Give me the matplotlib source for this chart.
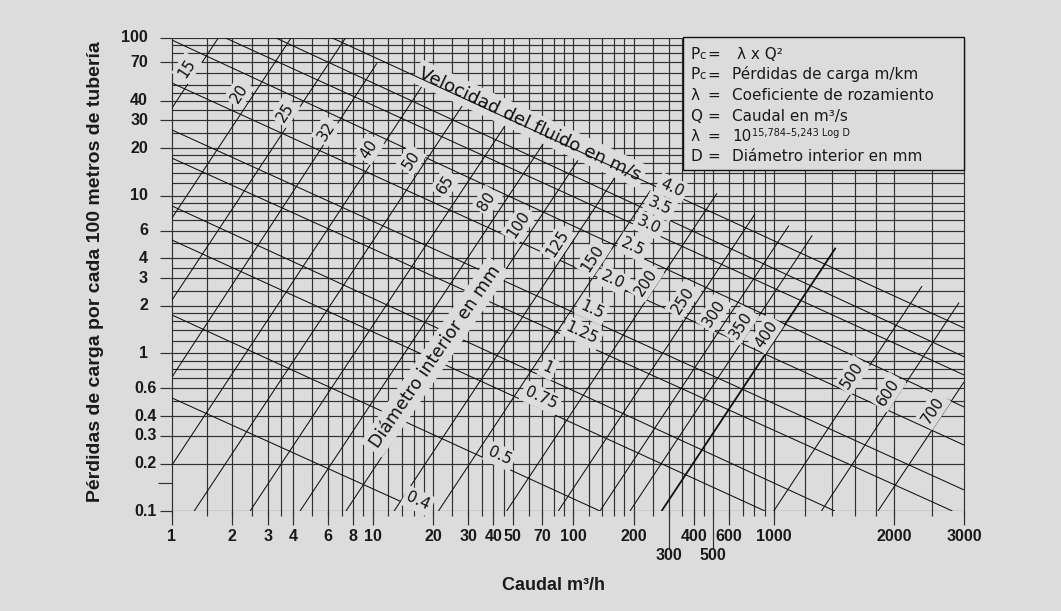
import numpy as np
import matplotlib
matplotlib.use('Agg')
import matplotlib.pyplot as plt
from matplotlib.patches import Rectangle
from matplotlib.ticker import NullLocator
from matplotlib.transforms import blended_transform_factory, offset_copy

# ---------------- data ----------------
x_tick_values = [1, 2, 3, 4, 6, 8, 10, 20, 30, 40, 50, 70, 100, 200, 400, 600, 1000, 2000, 3000]
x_tick_labels = ['1', '2', '3', '4', '6', '8', '10', '20', '30', '40', '50', '70', '100', '200',
                 '400', '600', '1000', '2000', '3000']
x_tick_low_values = [300, 500]
x_tick_low_labels = ['300', '500']
y_tick_values = [0.1, 0.2, 0.3, 0.4, 0.6, 1, 2, 3, 4, 6, 10, 20, 30, 40, 70, 100]
y_tick_labels = ['0.1', '0.2', '0.3', '0.4', '0.6', '1', '2', '3', '4', '6', '10', '20', '30', '40',
                 '70', '100']
y_tick_extra = [0.15]
x_grid = [1, 1.5, 2, 2.5, 3, 3.5, 4, 5, 6, 7, 8, 9, 10, 12, 14, 16, 18, 20, 25, 30, 35, 40, 45,
          50, 60, 70, 80, 90, 100, 120, 140, 160, 180, 200, 250, 300, 350, 400, 450, 500, 600,
          700, 800, 900, 1000, 1200, 1400, 1600, 1800, 2000, 2500, 3000]
y_grid = [0.1, 0.2, 0.3, 0.4, 0.5, 0.6, 0.7, 0.8, 0.9, 1, 1.2, 1.4, 1.6, 1.8, 2, 2.5, 3, 3.5, 4,
          5, 6, 7, 8, 9, 10, 12, 14, 16, 18, 20, 25, 30, 35, 40, 45, 50, 60, 70, 80, 90, 100]

# diameter lines (mm): start (Q, Pc) -> end (Q, Pc)
diam_names = ['15', '20', '25', '32', '40', '50', '65', '80', '100', '125', '150', '200', '250',
              '300', '350', '400', '500', '600', '700']
diam_q0 = [1, 1, 1, 1, 1, 1.29, 2.45, 4.35, 7.37, 12.8, 21.3, 46.6, 84.3, 136, 192, 276, 1000,
           1317, 1826]
diam_p0 = [36, 7.22, 2.18, 0.708, 0.196, 0.1, 0.1, 0.1, 0.1, 0.1, 0.1, 0.1, 0.1, 0.1, 0.1, 0.1,
           0.1, 0.1, 0.1]
diam_q1 = [1.70, 3.92, 7.33, 10.5, 17.8, 28.9, 47.2, 73.9, 110, 167, 243, 521, 806, 1091, 1249,
           1430, 2354, 2915, 3000]
diam_p1 = [100, 100, 100, 69.1, 50.3, 39.5, 29.5, 23.1, 18.1, 13.9, 10.8, 10.35, 7.65, 6.46, 5.6,
           4.67, 2.67, 2.10, 0.658]

# velocity lines (m/s)
vel_names = ['0.4', '0.5', '0.75', '1', '1.25', '1.5', '2.0', '2.5', '3.0', '3.5', '4.0']
vel_q0 = [1, 1, 1, 1, 1, 1, 1, 1, 1.85, 3.3, 6.3]
vel_p0 = [0.521, 1.75, 5.23, 8.6, 17.3, 26.1, 51.8, 97, 100, 100, 100]
vel_q1 = [17.6, 136, 904, 1422, 2806, 3000, 3000, 3000, 3000, 3000, 3000]
vel_p1 = [0.1, 0.1, 0.1, 0.1, 0.1, 0.136, 0.262, 0.457, 0.729, 0.952, 1.447]

# ---------------- layout ----------------
W, H = 1061, 611
BG = '#dcdcdc'
GRID = '#303030'
LINE = '#111111'
L, R, T, B = 172, 964, 38, 511
TICKFONT = dict(family='Liberation Sans', weight='bold', size=11.5)
LABFONT = dict(family='DejaVu Sans', size=11)

fig = plt.figure(figsize=(W / 100, H / 100), dpi=100, facecolor=BG)
ax = fig.add_axes([L / W, 1 - B / H, (R - L) / W, (B - T) / H])
ax.set_facecolor(BG)

K = 1.988  # the axis is stretched above 1000 m3/h


def fwd(x):
    x = np.asarray(x, dtype=float)
    lx = np.log10(np.clip(x, 1e-300, None))
    return np.where(lx <= 3, lx, 3 + K * (lx - 3))


def inv(u):
    u = np.asarray(u, dtype=float)
    return np.where(u <= 3, 10.0 ** u, 10.0 ** (3 + (u - 3) / K))


ax.set_xscale('function', functions=(fwd, inv))
ax.set_yscale('log')
for s in ax.spines.values():
    s.set_visible(False)

# grid
gkw = dict(color=GRID, lw=0.85, zorder=1, solid_capstyle='butt')
for xv in x_grid:
    ax.axvline(xv, ymin=-5 / (B - T), ymax=1, clip_on=False, **gkw)
for yv in y_grid:
    ax.axhline(yv, xmin=0, xmax=1, **gkw)
ytrans = blended_transform_factory(ax.transAxes, ax.transData)
for yv in y_tick_extra:
    ax.plot([-14 / (R - L), 0], [yv, yv], transform=ytrans, clip_on=False, **gkw)

# ticks
ax.set_xticks(x_tick_values, x_tick_labels, **TICKFONT)
ax.set_xticks(x_tick_low_values, x_tick_low_labels, minor=True, **TICKFONT)
ax.tick_params(axis='x', which='major', length=10.1, width=0.85, color=GRID, pad=3.2,
               labelcolor='#1a1a1a')
ax.tick_params(axis='x', which='minor', length=26.6, width=0.85, color=GRID, pad=0.4,
               labelcolor='#1a1a1a')
ax.set_yticks(y_tick_values)
ax.yaxis.set_minor_locator(NullLocator())
ax.tick_params(axis='y', which='major', length=8.6, width=0.85, color=GRID, labelleft=False)
for v, lab in zip(y_tick_values, y_tick_labels):
    dx = 15 if v < 1 else 24
    ax.text(0, v, lab, transform=offset_copy(ytrans, fig=fig, x=-dx, y=0, units='dots'),
            ha='right', va='center', color='#1a1a1a', **TICKFONT)

# diameter lines
for name, q0, p0, q1, p1 in zip(diam_names, diam_q0, diam_p0, diam_q1, diam_p1):
    ax.plot([q0, q1], [p0, p1], color=LINE, lw=1.3 if name == '400' else 0.75, zorder=2.2,
            solid_capstyle='butt')
# velocity lines
for name, q0, p0, q1, p1 in zip(vel_names, vel_q0, vel_p0, vel_q1, vel_p1):
    ax.plot([q0, q1], [p0, p1], color=LINE, lw=0.75, zorder=3, solid_capstyle='butt')

ax.set_xlim(1, 3000)
ax.set_ylim(0.1, 100)


def ftext(xp, yp, s, **kw):
    return ax.text(xp / W, 1 - yp / H, s, transform=fig.transFigure, **kw)


box = dict(boxstyle='square,pad=0.2', fc=BG, ec='none')

# labels of diameter lines (placed beside each line)
diam_label_px = [(187, 68), (239, 93), (285, 112), (326, 131), (369, 149), (411, 160), (445, 184),
                 (487, 201), (519, 224), (558, 243), (593, 258), (646, 282), (683, 300),
                 (714, 313), (741, 325), (766, 334), (852, 375), (888, 392), (933, 410)]
for name, (xp, yp) in zip(diam_names, diam_label_px):
    ftext(xp, yp, name, rotation=56.5, rotation_mode='anchor', ha='center', va='center',
          bbox=box, zorder=4, color='#111', **LABFONT)

vel_label_px = [(418, 501), (500, 456), (541, 398), (548, 368), (582, 333), (592, 310),
                (613, 280), (633, 247), (649, 225), (660, 206), (672, 188)]
for name, (xp, yp) in zip(vel_names, vel_label_px):
    ftext(xp, yp, name, rotation=-24.7, rotation_mode='anchor', ha='center', va='center',
          bbox=box, zorder=4, color='#111', **LABFONT)

ftext(530, 124, 'Velocidad del fluido en m/s', rotation=-25.2, rotation_mode='anchor',
      ha='center', va='center', bbox=dict(boxstyle='square,pad=0.2', fc=BG, ec='none'),
      zorder=2.5, color='#111', family='DejaVu Sans', size=13)
ftext(435, 357, 'Diámetro interior en mm', rotation=55.5, rotation_mode='anchor',
      ha='center', va='center', bbox=dict(boxstyle='square,pad=0.25', fc=BG, ec='none'),
      zorder=4, color='#111', family='DejaVu Sans', size=12.5)

# formula box
ax.add_patch(Rectangle((683 / W, 1 - 170 / H), (964 - 683) / W, (170 - 37.5) / H,
                       transform=fig.transFigure, fc=BG, ec='#111', lw=1.0, zorder=6,
                       clip_on=False))
LEG = dict(family='DejaVu Sans', size=11, color='#1a1a1a', zorder=7, va='baseline')
base = [59, 79.3, 100, 120.7, 140.7, 160.7]
syms = ['P', 'P', 'λ', 'Q', 'λ', 'D']
vals = ['λ x Q²', 'Pérdidas de carga m/km', 'Coeficiente de rozamiento', 'Caudal en m³/s', '10',
        'Diámetro interior en mm']
for i, (sy, vl, by) in enumerate(zip(syms, vals, base)):
    ftext(690, by, sy, ha='left', **LEG)
    if sy == 'P':
        ftext(699.5, by, 'c', ha='left', **dict(LEG, size=8.5))
    ftext(713.5, by, '=', ha='center', **LEG)
    ftext(737 if i == 0 else 732, by, vl, ha='left', **LEG)
ftext(752, 135.5, '15,784–5,243 Log D', ha='left', **dict(LEG, size=7))

# axis titles
fig.text(96 / W, 1 - 272 / H, 'Pérdidas de carga por cada 100 metros de tubería', rotation=90,
         ha='center', va='center', color='#1a1a1a', family='Liberation Sans', weight='bold',
         size=14)
fig.text(553 / W, 1 - 585 / H, 'Caudal m³/h', ha='center', va='center', color='#1a1a1a',
         family='Liberation Sans', weight='bold', size=13)

fig.savefig('out.png', dpi=100, facecolor=BG)
